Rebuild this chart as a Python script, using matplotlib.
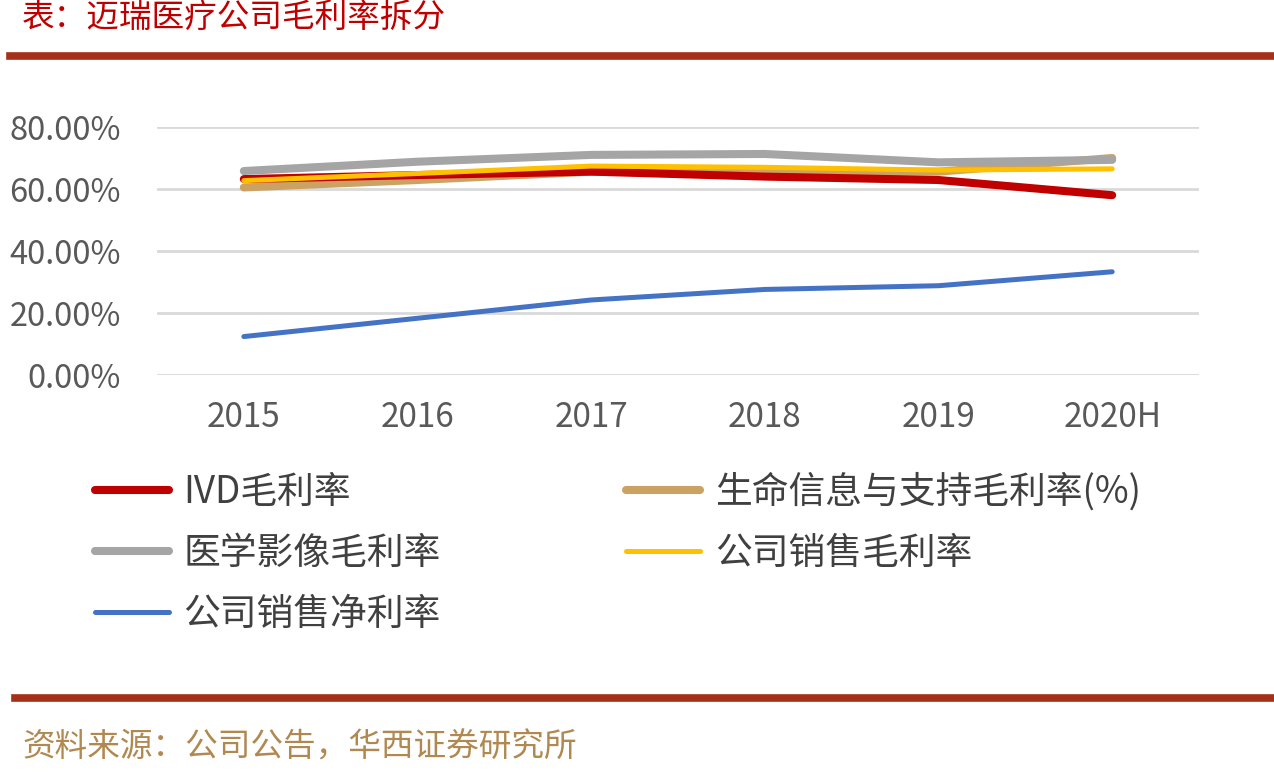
import matplotlib
matplotlib.use("Agg")
import matplotlib.pyplot as plt
from matplotlib.lines import Line2D
from matplotlib.ticker import FuncFormatter

plt.rcParams['font.family'] = ['Noto Sans CJK SC', 'DejaVu Sans']

# data
years = ["2015", "2016", "2017", "2018", "2019", "2020H"]
ivd_gross = [63.2, 64.5, 65.6, 64.0, 62.9, 58.0]
life_gross = [60.5, 62.9, 65.6, 65.4, 65.6, 70.0]
imaging_gross = [65.8, 68.8, 71.0, 71.3, 68.6, 69.4]
company_gross = [62.7, 65.0, 67.4, 67.0, 66.1, 66.5]
company_net = [12.4, 18.3, 24.2, 27.6, 28.8, 33.3]

labels = ["IVD毛利率", "生命信息与支持毛利率(%)", "医学影像毛利率", "公司销售毛利率", "公司销售净利率"]

fig = plt.figure(figsize=(12.74, 7.8), dpi=100)
ax = fig.add_axes([157 / 1274, 1 - 375 / 780, (1199 - 157) / 1274, (375 - 127) / 780])

x = range(len(years))
thick = 5.8
thin = 3.6
l_imaging, = ax.plot(x, imaging_gross, color="#A5A5A5", lw=thick, solid_capstyle="round")
l_life, = ax.plot(x, life_gross, color="#CCA262", lw=thick, solid_capstyle="round")
l_ivd, = ax.plot(x, ivd_gross, color="#C00000", lw=thick, solid_capstyle="round")
l_comp, = ax.plot(x, company_gross, color="#FFC000", lw=thin, solid_capstyle="round")
l_net, = ax.plot(x, company_net, color="#4472C4", lw=thin, solid_capstyle="round")
l_imaging.set_zorder(3)

ax.set_xlim(-0.5, len(years) - 0.5)
ax.set_ylim(0, 80)
ax.set_yticks([0, 20, 40, 60, 80])
ax.yaxis.set_major_formatter(FuncFormatter(lambda v, p: f"{v:.2f}%"))
ax.set_xticks(list(x))
ax.set_xticklabels(years)
ax.grid(axis="y", color="#D9D9D9", lw=2)
ax.set_axisbelow(True)
for s in ax.spines.values():
    s.set_visible(False)
ax.tick_params(length=0, colors="#595959")
ax.tick_params(axis="y", pad=26, labelsize=23.5)
ax.tick_params(axis="x", pad=18, labelsize=24)

# legend, filled row by row
handles = [l_ivd, l_imaging, l_net, l_life, l_comp]
hl = [labels[0], labels[2], labels[4], labels[1], labels[3]]
hcopy = [Line2D([], [], color=h.get_color(), lw=h.get_linewidth(), solid_capstyle="round") for h in handles]
fig.legend(hcopy, hl, ncol=2, loc="upper left", bbox_to_anchor=(95 / 1274, 1 - 473 / 780),
           frameon=False, fontsize=26.5, labelcolor="#404040", handlelength=2.0, handletextpad=0.4,
           columnspacing=5.05, labelspacing=0.6, borderpad=0, borderaxespad=0)

# header / footer
fig.text(22 / 1274, 1 - 18 / 780, "表：迈瑞医疗公司毛利率拆分", color="#C00000", fontsize=23.5, va="center")
fig.add_artist(Line2D([10 / 1274, 1], [1 - 56 / 780] * 2, color="#A5301A", lw=5.5))
fig.add_artist(Line2D([15 / 1274, 1], [1 - 698 / 780] * 2, color="#A5301A", lw=5.5))
fig.text(22 / 1274, 1 - 747 / 780, "资料来源：公司公告，华西证券研究所", color="#B08850", fontsize=23.5, va="center")

fig.savefig("out.png", dpi=100)
